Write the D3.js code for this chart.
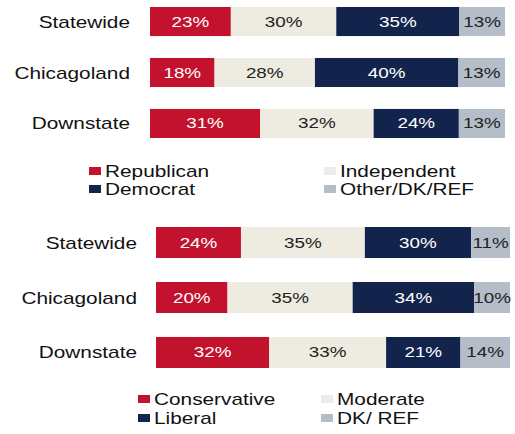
<!DOCTYPE html>
<html>
<head>
<meta charset="utf-8">
<script src="https://cdn.jsdelivr.net/npm/d3@7"></script>
<style>
  html, body { margin: 0; padding: 0; background: #ffffff; }
  svg { display: block; }
  text { font-family: "Liberation Sans", Arial, sans-serif; }
</style>
</head>
<body>
<svg id="chart" width="515" height="434"></svg>
<script>
// Regions shown in both panels
const regions = ["Statewide", "Chicagoland", "Downstate"];

// Party identification (%)
const partyKeys = ["Republican", "Independent", "Democrat", "Other/DK/REF"];
const republican  = [23, 18, 31];
const independent = [30, 28, 32];
const democrat    = [35, 40, 24];
const otherParty  = [13, 13, 13];

// Ideology (%)
const ideoKeys = ["Conservative", "Moderate", "Liberal", "DK/ REF"];
const conservative = [24, 20, 32];
const moderate     = [35, 35, 33];
const liberal      = [30, 34, 21];
const dkRef        = [11, 10, 14];

const fills = ["#c3122d", "#eeebe1", "#13244c", "#b5bec8"];
const legendFills = ["#c3122d", "#ececec", "#13244c", "#b5bec8"];
const labelInk = ["#ffffff", "#222222", "#ffffff", "#222222"];

const svg = d3.select("#chart");
const SX = 1.3; // horizontal text stretch

function stretchedText(g, x, y, str, opts) {
  return g.append("text")
    .attr("transform", `translate(${x},${y}) scale(${SX},1)`)
    .attr("text-anchor", opts.anchor || "start")
    .attr("dominant-baseline", opts.baseline || "alphabetic")
    .attr("font-size", opts.size)
    .attr("fill", opts.fill || "#111")
    .text(str);
}

function panel(cfg) {
  const rows = regions.map((r, i) => {
    const o = { region: r };
    cfg.keys.forEach((k, j) => { o[k] = cfg.series[j][i]; });
    return o;
  });

  const stacked = d3.stack()
    .keys(cfg.keys)
    .offset(d3.stackOffsetExpand)(rows);

  const x = d3.scaleLinear().domain([0, 1]).range(cfg.xRange);
  const y = d3.scaleBand().domain(regions).range(cfg.yRange)
    .paddingInner(cfg.padding).paddingOuter(0);

  const g = svg.append("g");

  // stacked segments
  stacked.forEach((layer, j) => {
    const lg = g.append("g");
    lg.selectAll("rect")
      .data(layer)
      .join("rect")
      .attr("x", d => x(d[0]))
      .attr("y", d => y(d.data.region))
      .attr("width", d => x(d[1]) - x(d[0]))
      .attr("height", y.bandwidth())
      .attr("fill", fills[j]);

    layer.forEach(d => {
      const cx = (x(d[0]) + x(d[1])) / 2;
      const cy = y(d.data.region) + y.bandwidth() / 2 + 5;
      stretchedText(lg, cx, cy, d.data[cfg.keys[j]] + "%",
        { anchor: "middle", size: 14.5, fill: labelInk[j] });
    });
  });

  // region labels
  regions.forEach(r => {
    stretchedText(g, cfg.labelX, y(r) + y.bandwidth() / 2 + 6, r,
      { anchor: "end", size: 16, fill: "#111" });
  });

  // legend, two columns by two rows
  const order = [0, 1, 2, 3];
  order.forEach(j => {
    const col = j % 2 === 0 ? 0 : 1;
    const row = (j === 0 || j === 1) ? 0 : 1;
    const lx = cfg.legendX[col];
    const ly = cfg.legendY[row];
    g.append("rect")
      .attr("x", lx - 16)
      .attr("y", ly - 10)
      .attr("width", 12)
      .attr("height", 8)
      .attr("fill", legendFills[j]);
    stretchedText(g, lx, ly, cfg.keys[j], { size: 16, fill: "#111" });
  });
}

panel({
  keys: partyKeys,
  series: [republican, independent, democrat, otherParty],
  xRange: [150, 505],
  yRange: [7, 138],
  padding: 0.43,
  labelX: 130,
  legendX: [105, 340],
  legendY: [177, 195]
});

panel({
  keys: ideoKeys,
  series: [conservative, moderate, liberal, dkRef],
  xRange: [156, 510],
  yRange: [227, 368],
  padding: 0.436,
  labelX: 137,
  legendX: [154, 337],
  legendY: [405, 424]
});
</script>
</body>
</html>
